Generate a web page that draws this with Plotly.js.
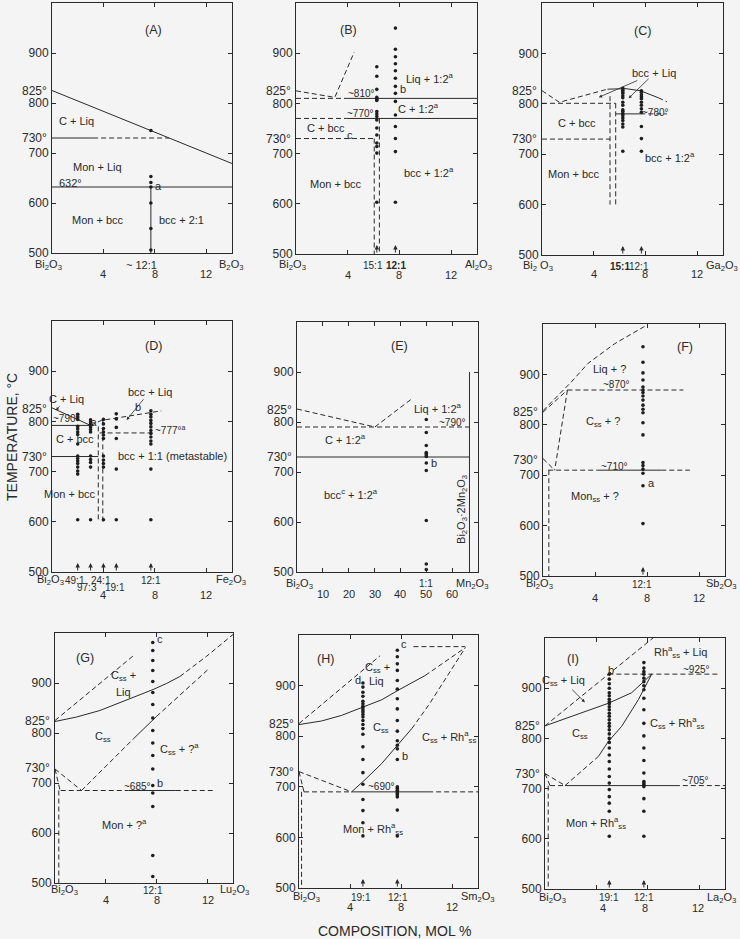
<!DOCTYPE html>
<html><head><meta charset="utf-8">
<script src="https://cdn.plot.ly/plotly-3.0.1.min.js"></script>
<style>html,body{margin:0;padding:0;background:#f4f4f4}</style>
</head><body><div id="chart" style="width:740px;height:939px"></div>
<script>
// ================= DATA =================
const tempTicks = [500, 600, 700, 800, 900];
const molTicks = [4, 8, 12];
const molTicksE = [10, 20, 30, 40, 50, 60];

// kind: 's' = established boundary, 'd' = tentative boundary
// ---- (A) Bi2O3 - B2O3
const A_bounds = [
  {kind:'s', x:[0,14], y:[825,679]},
  {kind:'s', x:[0,3.2], y:[730,730]},
  {kind:'d', x:[3.2,9.1], y:[730,730]},
  {kind:'s', x:[0,14], y:[632,632]},
  {kind:'s', x:[7.69,7.69], y:[500,632]}
];
const A_pts = [{x:7.69, y:[745,653,641,632,600,549,506]}];

// ---- (B) Bi2O3 - Al2O3
const B_bounds = [
  {kind:'d', x:[0,3.0,4.5], y:[825,812,902]},
  {kind:'d', x:[0,4.0], y:[810,810]},
  {kind:'s', x:[4.0,14], y:[810,810]},
  {kind:'d', x:[0,3.9], y:[770,770]},
  {kind:'s', x:[3.9,14], y:[770,770]},
  {kind:'d', x:[0,6.05], y:[730,730]},
  {kind:'d', x:[6.05,6.05], y:[730,500]},
  {kind:'d', x:[6.45,6.45], y:[770,500]}
];
const B_pts = [
  {x:6.25, y:[873,854,828,812,808,806,784,779,774,767,751,737,721,714,701,603]},
  {x:7.69, y:[950,908,893,879,865,850,834,820,804,777,754,730,704,603]}
];
const B_marks = [6.25, 7.69];

// ---- (C) Bi2O3 - Ga2O3
const C_bounds = [
  {kind:'d', x:[0,1.35,5.06], y:[826,803,829]},
  {kind:'s', x:[5.06,6.5,7.6,9.0], y:[829,830,826,812]},
  {kind:'d', x:[9.0,9.66], y:[812,804]},
  {kind:'d', x:[0,5.7], y:[801,801]},
  {kind:'s', x:[5.7,7.6], y:[780,780]},
  {kind:'d', x:[7.6,9.66], y:[780,780]},
  {kind:'d', x:[0,5.26], y:[730,730]},
  {kind:'d', x:[5.26,5.26], y:[815,600]},
  {kind:'d', x:[5.7,5.7], y:[801,600]}
];
const C_pts = [
  {x:6.25, y:[831,827,824,821,816,812,803,797,788,785,781,777,772,767,760,754,706]},
  {x:7.69, y:[826,823,818,814,810,803,797,790,783,755,731,706]}
];
const C_marks = [6.25, 7.69];

// ---- (D) Bi2O3 - Fe2O3
const D_bounds = [
  {kind:'s', x:[0,3.0], y:[827,792]},
  {kind:'s', x:[0,3.2], y:[792,792]},
  {kind:'d', x:[3.0,3.84,8.5], y:[792,802,821]},
  {kind:'d', x:[3.7,7.86], y:[777,777]},
  {kind:'s', x:[0,3.6], y:[730,730]},
  {kind:'d', x:[3.6,3.6], y:[790,600]},
  {kind:'d', x:[3.95,3.95], y:[802,600]}
];
const D_pts = [
  {x:2, y:[814,809,804,790,785,779,774,755,731,726,721,716,709,701,695,604]},
  {x:3, y:[803,798,794,789,784,779,731,724,718,709,604]},
  {x:4, y:[804,795,786,779,773,766,731,723,716,709,604]},
  {x:5, y:[815,805,788,766,705,604]},
  {x:7.69, y:[821,814,809,802,796,789,782,776,769,761,755,705,604]}
];
const D_marks = [2, 3, 4, 5, 7.69];

// ---- (E) Bi2O3 - Mn2O3
const E_bounds = [
  {kind:'d', x:[0,30.1,44.3], y:[826,790,846]},
  {kind:'d', x:[0,66.7], y:[790,790]},
  {kind:'s', x:[0,66.7], y:[730,730]},
  {kind:'s', x:[66.7,66.7], y:[500,900]}
];
const E_pts = [{x:50, y:[805,779,753,739,737,734,731,718,703,603,516,505]}];

// ---- (F) Bi2O3 - Sb2O3
const F_bounds = [
  {kind:'d', x:[0,1.54,2.18,3.47,5.52,7.8], y:[828,869,885,922,961,995]},
  {kind:'d', x:[0,1.88], y:[825,869]},
  {kind:'d', x:[1.88,10.8], y:[869,869]},
  {kind:'d', x:[1.88,0.9], y:[869,710]},
  {kind:'d', x:[0,0.9], y:[733,710]},
  {kind:'d', x:[0.4,4.2], y:[710,710]},
  {kind:'s', x:[4.2,9.1], y:[710,710]},
  {kind:'d', x:[9.1,11.3], y:[710,710]},
  {kind:'d', x:[0.45,0.45], y:[710,500]}
];
const F_pts = [{x:7.69, y:[955,924,903,889,875,869,864,857,849,839,831,824,804,780,725,719,712,704,679,604]}];
const F_marks = [7.69];

// ---- (G) Bi2O3 - Lu2O3
const G_bounds = [
  {kind:'s', x:[0,1.70,3.53,5.37,6.94,7.72,8.77,9.82], y:[823,832,845,863,879,887,899,913]},
  {kind:'d', x:[9.82,11.9,14.0], y:[913,953,997]},
  {kind:'d', x:[0,6.28], y:[825,957]},
  {kind:'d', x:[2.09,6.15], y:[685,788]},
  {kind:'s', x:[6.15,7.98], y:[788,833]},
  {kind:'d', x:[7.98,12.04], y:[833,927]},
  {kind:'d', x:[0,2.09], y:[728,685]},
  {kind:'d', x:[0,0.4], y:[728,685]},
  {kind:'d', x:[0.3,0.3], y:[685,500]},
  {kind:'d', x:[0.45,5.8], y:[685,685]},
  {kind:'s', x:[5.8,9.5], y:[685,685]},
  {kind:'d', x:[9.5,12.4], y:[685,685]}
];
const G_pts = [{x:7.69, y:[981,965,945,925,903,881,857,830,805,780,755,728,695,680,653,555,513]}];

// ---- (H) Bi2O3 - Sm2O3
const H_bounds = [
  {kind:'s', x:[0,1.75,3.32,4.9,6.47,7.77,9.87], y:[823,830,841,856,872,891,920]},
  {kind:'d', x:[9.87,11.44,13.01], y:[920,948,975]},
  {kind:'d', x:[0,6.34], y:[825,959]},
  {kind:'s', x:[4.11,5.16,6.47,7.77,8.82], y:[690,714,746,784,815]},
  {kind:'d', x:[8.82,10.13,11.7,13.01], y:[815,861,923,975]},
  {kind:'d', x:[0,4.11], y:[730,690]},
  {kind:'d', x:[0,0.39], y:[730,690]},
  {kind:'d', x:[0.2,0.2], y:[690,500]},
  {kind:'d', x:[0.39,4.11], y:[690,690]},
  {kind:'s', x:[4.11,10.1], y:[690,690]},
  {kind:'d', x:[10.1,14], y:[690,690]},
  {kind:'d', x:[8.95,13.0], y:[977,977]}
];
const H_pts = [
  {x:5, y:[905,897,887,879,869,864,859,856,852,848,843,838,831,823,815,804,779,754,728,705,675,653,629,603]},
  {x:7.69, y:[970,957,943,930,910,893,874,854,831,810,791,782,775,754,700,697,693,690,687,684,680,654,603]}
];
const H_marks = [5, 7.69];

// ---- (I) Bi2O3 - La2O3
const I_bounds = [
  {kind:'d', x:[0,8.4], y:[825,1000]},
  {kind:'s', x:[0,2.07,4.93,6.74,8.3], y:[825,844,870,891,928]},
  {kind:'d', x:[1.56,4.15], y:[706,764]},
  {kind:'s', x:[4.15,4.93,5.96,7.26,8.3], y:[764,794,824,877,928]},
  {kind:'d', x:[0,1.56], y:[730,706]},
  {kind:'d', x:[0,0.39], y:[730,706]},
  {kind:'d', x:[0.25,0.25], y:[706,500]},
  {kind:'d', x:[0.39,1.56], y:[706,706]},
  {kind:'s', x:[1.56,10.1], y:[706,706]},
  {kind:'d', x:[10.1,14], y:[706,706]},
  {kind:'d', x:[4.93,13.5], y:[928,928]}
];
const I_pts = [
  {x:5, y:[928,918,909,900,891,885,878,873,869,863,857,850,844,837,830,824,817,809,800,792,781,767,754,739,724,711,698,684,671,655,605]},
  {x:7.69, y:[951,940,933,928,920,913,905,897,880,857,830,805,781,756,731,714,711,708,704,680,655,605]}
];
const I_marks = [5, 7.69];

// ================= RENDER =================
const FONT = 'Liberation Sans, Arial, sans-serif';
const INK = '#2a2a2a';
const W = 740, H = 939;
const BO = 'Bi<sub>2</sub>O<sub>3</sub>';
const YR = [500, 1000];

// plot-area pixel boxes [left, right, top, bottom]
const boxes = {
  1:[52,232,3,253], 2:[296,477,3,254], 3:[542,723,3,255],
  4:[52,232,321,572], 5:[297,478,322,572], 6:[543,725,324,576],
  7:[55,233,633,883], 8:[299,478,635,888], 9:[545,725,638,889]
};
const xRange = p => p === 5 ? [0, 70] : [0, 14];
const sfx = p => p === 1 ? '' : String(p);

const layout = {
  width: W, height: H, margin:{l:0,r:0,t:0,b:0},
  paper_bgcolor:'#f4f4f4', plot_bgcolor:'#f4f4f4',
  showlegend:false, font:{family:FONT, size:11, color:INK},
  annotations:[]
};
const ann = layout.annotations;
const traces = [];

for (let p = 1; p <= 9; p++) {
  const [l, r, t, b] = boxes[p];
  layout['xaxis' + sfx(p)] = {
    domain:[l / W, r / W], anchor:'y' + sfx(p),
    range: xRange(p),
    tickvals: p === 5 ? molTicksE : molTicks,
    ticks:'inside', ticklen:4, tickcolor:INK, mirror:'ticks',
    showline:true, linecolor:INK, linewidth:1,
    showticklabels:false, showgrid:false, zeroline:false, fixedrange:true
  };
  layout['yaxis' + sfx(p)] = {
    domain:[1 - b / H, 1 - t / H], anchor:'x' + sfx(p),
    range: YR, tickvals: tempTicks,
    ticks:'inside', ticklen:4, tickcolor:INK, mirror:'ticks',
    showline:true, linecolor:INK, linewidth:1,
    tickfont:{family:FONT, size:12, color:INK},
    showgrid:false, zeroline:false, fixedrange:true
  };
}

// data coordinate -> paper coordinate (so labels outside the plot area are drawn)
function toPaper(p, x, y) {
  const [l, r, t, b] = boxes[p];
  const xr = xRange(p);
  const px = l + (x - xr[0]) / (xr[1] - xr[0]) * (r - l);
  const py = b - (y - YR[0]) / (YR[1] - YR[0]) * (b - t);
  return [px / W, 1 - py / H];
}

function addBounds(p, bounds) {
  bounds.forEach(bd => traces.push({
    type:'scatter', mode:'lines', x:bd.x, y:bd.y,
    xaxis:'x' + sfx(p), yaxis:'y' + sfx(p), hoverinfo:'skip',
    line:{color:INK, width:1, dash: bd.kind === 'd' ? '5px,3px' : 'solid'}
  }));
}
function addPts(p, cols) {
  const xs = [], ys = [];
  cols.forEach(c => c.y.forEach(v => { xs.push(c.x); ys.push(v); }));
  traces.push({type:'scatter', mode:'markers', x:xs, y:ys,
    xaxis:'x' + sfx(p), yaxis:'y' + sfx(p), hoverinfo:'skip',
    marker:{size:3.6, color:'#1e1e1e'}});
}
function addMarks(p, xs) {
  xs.forEach(x => {
    const tip = toPaper(p, x, 518), tail = toPaper(p, x, 500);
    ann.push({xref:'paper', yref:'paper', axref:'paper', ayref:'paper',
      x:tip[0], y:tip[1], ax:tail[0], ay:tail[1], text:'', showarrow:true,
      arrowhead:2, arrowsize:0.9, arrowwidth:1, arrowcolor:INK});
  });
}
function T(p, x, y, text, o) {
  const q = toPaper(p, x, y);
  ann.push(Object.assign({xref:'paper', yref:'paper', x:q[0], y:q[1],
    xanchor:'center', yanchor:'middle',
    text:text, showarrow:false, font:{family:FONT, size:11, color:INK}}, o || {}));
}
function leader(p, tx, ty, hx, hy, text, o) {
  const h = toPaper(p, hx, hy), t = toPaper(p, tx, ty);
  ann.push(Object.assign({xref:'paper', yref:'paper', axref:'paper', ayref:'paper',
    x:h[0], y:h[1], ax:t[0], ay:t[1], text:text, showarrow:true,
    arrowhead:2, arrowsize:0.8, arrowwidth:0.8, arrowcolor:INK,
    font:{family:FONT, size:11, color:INK}}, o || {}));
}
function degLabels(p, vals) {
  vals.forEach(v => T(p, 0, v, v + '°', {xanchor:'right', xshift:-3,
    font:{family:FONT, size:12, color:INK}}));
}
const small = {font:{family:FONT, size:10, color:INK}};
const head = {font:{family:FONT, size:12.5, color:INK}};
const isRatio = s => /^(<b>)?\d+:\d+/.test(s);
function bottom(p, yName, names, yNum, nums) {
  names.forEach(n => T(p, n[0], yName, n[1], isRatio(n[1]) ? small : undefined));
  nums.forEach(n => T(p, n, yNum, String(n)));
}

// ---- A
addBounds(1, A_bounds); addPts(1, A_pts);
degLabels(1, [825, 730]);
T(1, 7.9, 947, '(A)', head);
T(1, 1.9, 763, 'C + Liq');
T(1, 3.5, 672, 'Mon + Liq');
T(1, 3.6, 566, 'Mon + bcc');
T(1, 10.1, 566, 'bcc + 2:1');
T(1, 1.4, 641, '632°');
T(1, 7.85, 634, 'a', {xanchor:'left'});
bottom(1, 476, [[-0.3, BO], [6.95, '~ 12:1'], [13.9, 'B<sub>2</sub>O<sub>3</sub>']], 458, molTicks);

// ---- B
addBounds(2, B_bounds); addPts(2, B_pts); addMarks(2, B_marks);
degLabels(2, [825, 730]);
T(2, 4.06, 946, '(B)', head);
T(2, 10.4, 850, 'Liq + 1:2<sup>a</sup>');
T(2, 7.9, 828, 'b', {xanchor:'left'});
T(2, 5.1, 820, '~810°', small);
T(2, 9.5, 791, 'C + 1:2<sup>a</sup>');
T(2, 4.96, 780, '~770°', small);
T(2, 2.3, 750, 'C + bcc');
T(2, 4.15, 738, 'c');
T(2, 3.1, 640, 'Mon + bcc');
T(2, 10.3, 663, 'bcc + 1:2<sup>a</sup>');
bottom(2, 478, [[-0.25, BO], [5.95, '15:1'], [7.7, '<b>12:1</b>'], [14.1, 'Al<sub>2</sub>O<sub>3</sub>']], 458, molTicks);

// ---- C
addBounds(3, C_bounds); addPts(3, C_pts); addMarks(3, C_marks);
degLabels(3, [825, 730]);
T(3, 7.8, 945, '(C)', head);
leader(3, 8.7, 861, 4.4, 813, 'bcc + Liq');
leader(3, 8.7, 861, 6.7, 811, '', {startstandoff:6});
T(3, 8.75, 783, '~780°', small);
T(3, 2.7, 762, 'C + bcc');
T(3, 2.5, 661, 'Mon + bcc');
T(3, 9.9, 695, 'bcc + 1:2<sup>a</sup>');
bottom(3, 478, [[-0.3, 'Bi<sub>2</sub> O<sub>3</sub>'], [6.05, '<b>15:1</b>'], [7.5, '12:1'], [13.9, 'Ga<sub>2</sub>O<sub>3</sub>']], 462, molTicks);

// ---- D
addBounds(4, D_bounds); addPts(4, D_pts); addMarks(4, D_marks);
degLabels(4, [825, 730]);
T(4, 7.9, 950, '(D)', head);
leader(4, 1.15, 845, 0.3, 822, 'C + Liq');
T(4, 1.15, 805, '~790°', small);
T(4, 3.3, 797, 'a', small);
T(4, 1.8, 764, 'C + bcc');
leader(4, 7.6, 859, 5.8, 803, 'bcc + Liq');
T(4, 6.7, 829, 'b');
T(4, 9.2, 782, '~777°<sup>a</sup>', small);
T(4, 9.4, 731, 'bcc + 1:1 (metastable)');
T(4, 1.4, 656, 'Mon + bcc');
bottom(4, 484, [[-0.15, BO], [1.75, '49:1'], [3.8, '24:1'], [7.73, '12:1'], [13.9, 'Fe<sub>2</sub>O<sub>3</sub>']], 454, molTicks);
T(4, 2.75, 469, '97:3', small);
T(4, 4.9, 469, '19:1', small);

// ---- E
addBounds(5, E_bounds); addPts(5, E_pts);
degLabels(5, [825, 730]);
T(5, 39.7, 952, '(E)', head);
T(5, 54.6, 828, 'Liq + 1:2<sup>a</sup>');
T(5, 60, 798, '~790°', small);
T(5, 18.7, 767, 'C + 1:2<sup>a</sup>');
T(5, 51.2, 719, 'b', {xanchor:'left'});
T(5, 20.7, 656, 'bcc<sup>c</sup> + 1:2<sup>a</sup>');
T(5, 63.6, 625, BO + '·2Mn<sub>2</sub>O<sub>3</sub>', {textangle:-90});
bottom(5, 477, [[0.8, BO], [50, '1:1'], [67.8, 'Mn<sub>2</sub>O<sub>3</sub>']], 456, molTicksE);

// ---- F
addBounds(6, F_bounds); addPts(6, F_pts); addMarks(6, F_marks);
degLabels(6, [825, 730]);
T(6, 10.9, 955, '(F)', head);
T(6, 5.1, 911, 'Liq + ?');
T(6, 5.65, 879, '~870°', small);
T(6, 4.6, 806, 'C<sub>ss</sub> + ?');
T(6, 5.5, 717, '~710°', small);
T(6, 4.0, 657, 'Mon<sub>ss</sub> + ?');
T(6, 7.95, 684, 'a', {xanchor:'left'});
bottom(6, 484, [[-0.25, BO], [7.63, '12:1'], [13.75, 'Sb<sub>2</sub>O<sub>3</sub>']], 457, molTicks);

// ---- G
addBounds(7, G_bounds); addPts(7, G_pts);
degLabels(7, [825, 730]);
T(7, 2.36, 950, '(G)', head);
T(7, 5.4, 914, 'C<sub>ss</sub> +');
T(7, 5.37, 882, 'Liq');
T(7, 3.8, 793, 'C<sub>ss</sub>');
T(7, 9.8, 768, 'C<sub>ss</sub> + ?<sup>a</sup>');
T(7, 6.5, 694, '~685°', small);
T(7, 7.9, 701, 'b', {xanchor:'left'});
T(7, 7.85, 988, 'c', {xanchor:'left'});
T(7, 5.5, 618, 'Mon + ?<sup>a</sup>');
bottom(7, 486, [[0.75, BO], [7.72, '12:1'], [14.1, 'Lu<sub>2</sub>O<sub>3</sub>']], 467, molTicks);

// ---- H
addBounds(8, H_bounds); addPts(8, H_pts); addMarks(8, H_marks);
degLabels(8, [825, 730]);
T(8, 2.1, 952, '(H)', head);
T(8, 6.15, 934, 'C<sub>ss</sub> +');
T(8, 6.07, 909, 'Liq');
T(8, 4.6, 911, 'd');
T(8, 7.85, 982, 'c', {xanchor:'left'});
T(8, 6.4, 817, 'C<sub>ss</sub>');
T(8, 7.9, 761, 'b', {xanchor:'left'});
T(8, 11.7, 799, 'C<sub>ss</sub> + Rh<sup>a</sup><sub>ss</sub>');
T(8, 6.47, 700, '~690°', small);
T(8, 5.8, 617, 'Mon + Rh<sup>a</sup><sub>ss</sub>');
bottom(8, 482, [[0.55, BO], [4.84, '19:1'], [7.72, '12:1'], [14.0, 'Sm<sub>2</sub>O<sub>3</sub>']], 462, molTicks);

// ---- I
addBounds(9, I_bounds); addPts(9, I_pts); addMarks(9, I_marks);
degLabels(9, [825, 730]);
T(9, 2.2, 958, '(I)', head);
T(9, 10.5, 972, 'Rh<sup>a</sup><sub>ss</sub> + Liq');
T(9, 11.8, 938, '~925°', small);
T(9, 5.15, 936, 'b');
leader(9, 1.45, 914, 3.1, 872, 'C<sub>ss</sub> + Liq');
T(9, 2.72, 808, 'C<sub>ss</sub>');
T(9, 10.3, 831, 'C<sub>ss</sub> + Rh<sup>a</sup><sub>ss</sub>');
T(9, 11.67, 716, '~705°', small);
T(9, 4.0, 632, 'Mon + Rh<sup>a</sup><sub>ss</sub>');
bottom(9, 483, [[0.55, BO], [4.98, '19:1'], [7.72, '12:1'], [13.7, 'La<sub>2</sub>O<sub>3</sub>']], 462, []);
T(9, 4.5, 462, '4'); T(9, 7.8, 462, '8'); T(9, 11.9, 462, '12');

// ---- shared axis titles
ann.push({xref:'paper', yref:'paper', x:12 / W, y:1 - 437 / H, xanchor:'center', yanchor:'middle',
  text:'TEMPERATURE, °C', textangle:-90, showarrow:false, font:{family:FONT, size:14, color:INK}});
ann.push({xref:'paper', yref:'paper', x:395 / W, y:1 - 931 / H, xanchor:'center', yanchor:'middle',
  text:'COMPOSITION, MOL %', showarrow:false, font:{family:FONT, size:14, color:INK}});

Plotly.newPlot('chart', traces, layout, {staticPlot:true, displayModeBar:false});
</script>
</body></html>
